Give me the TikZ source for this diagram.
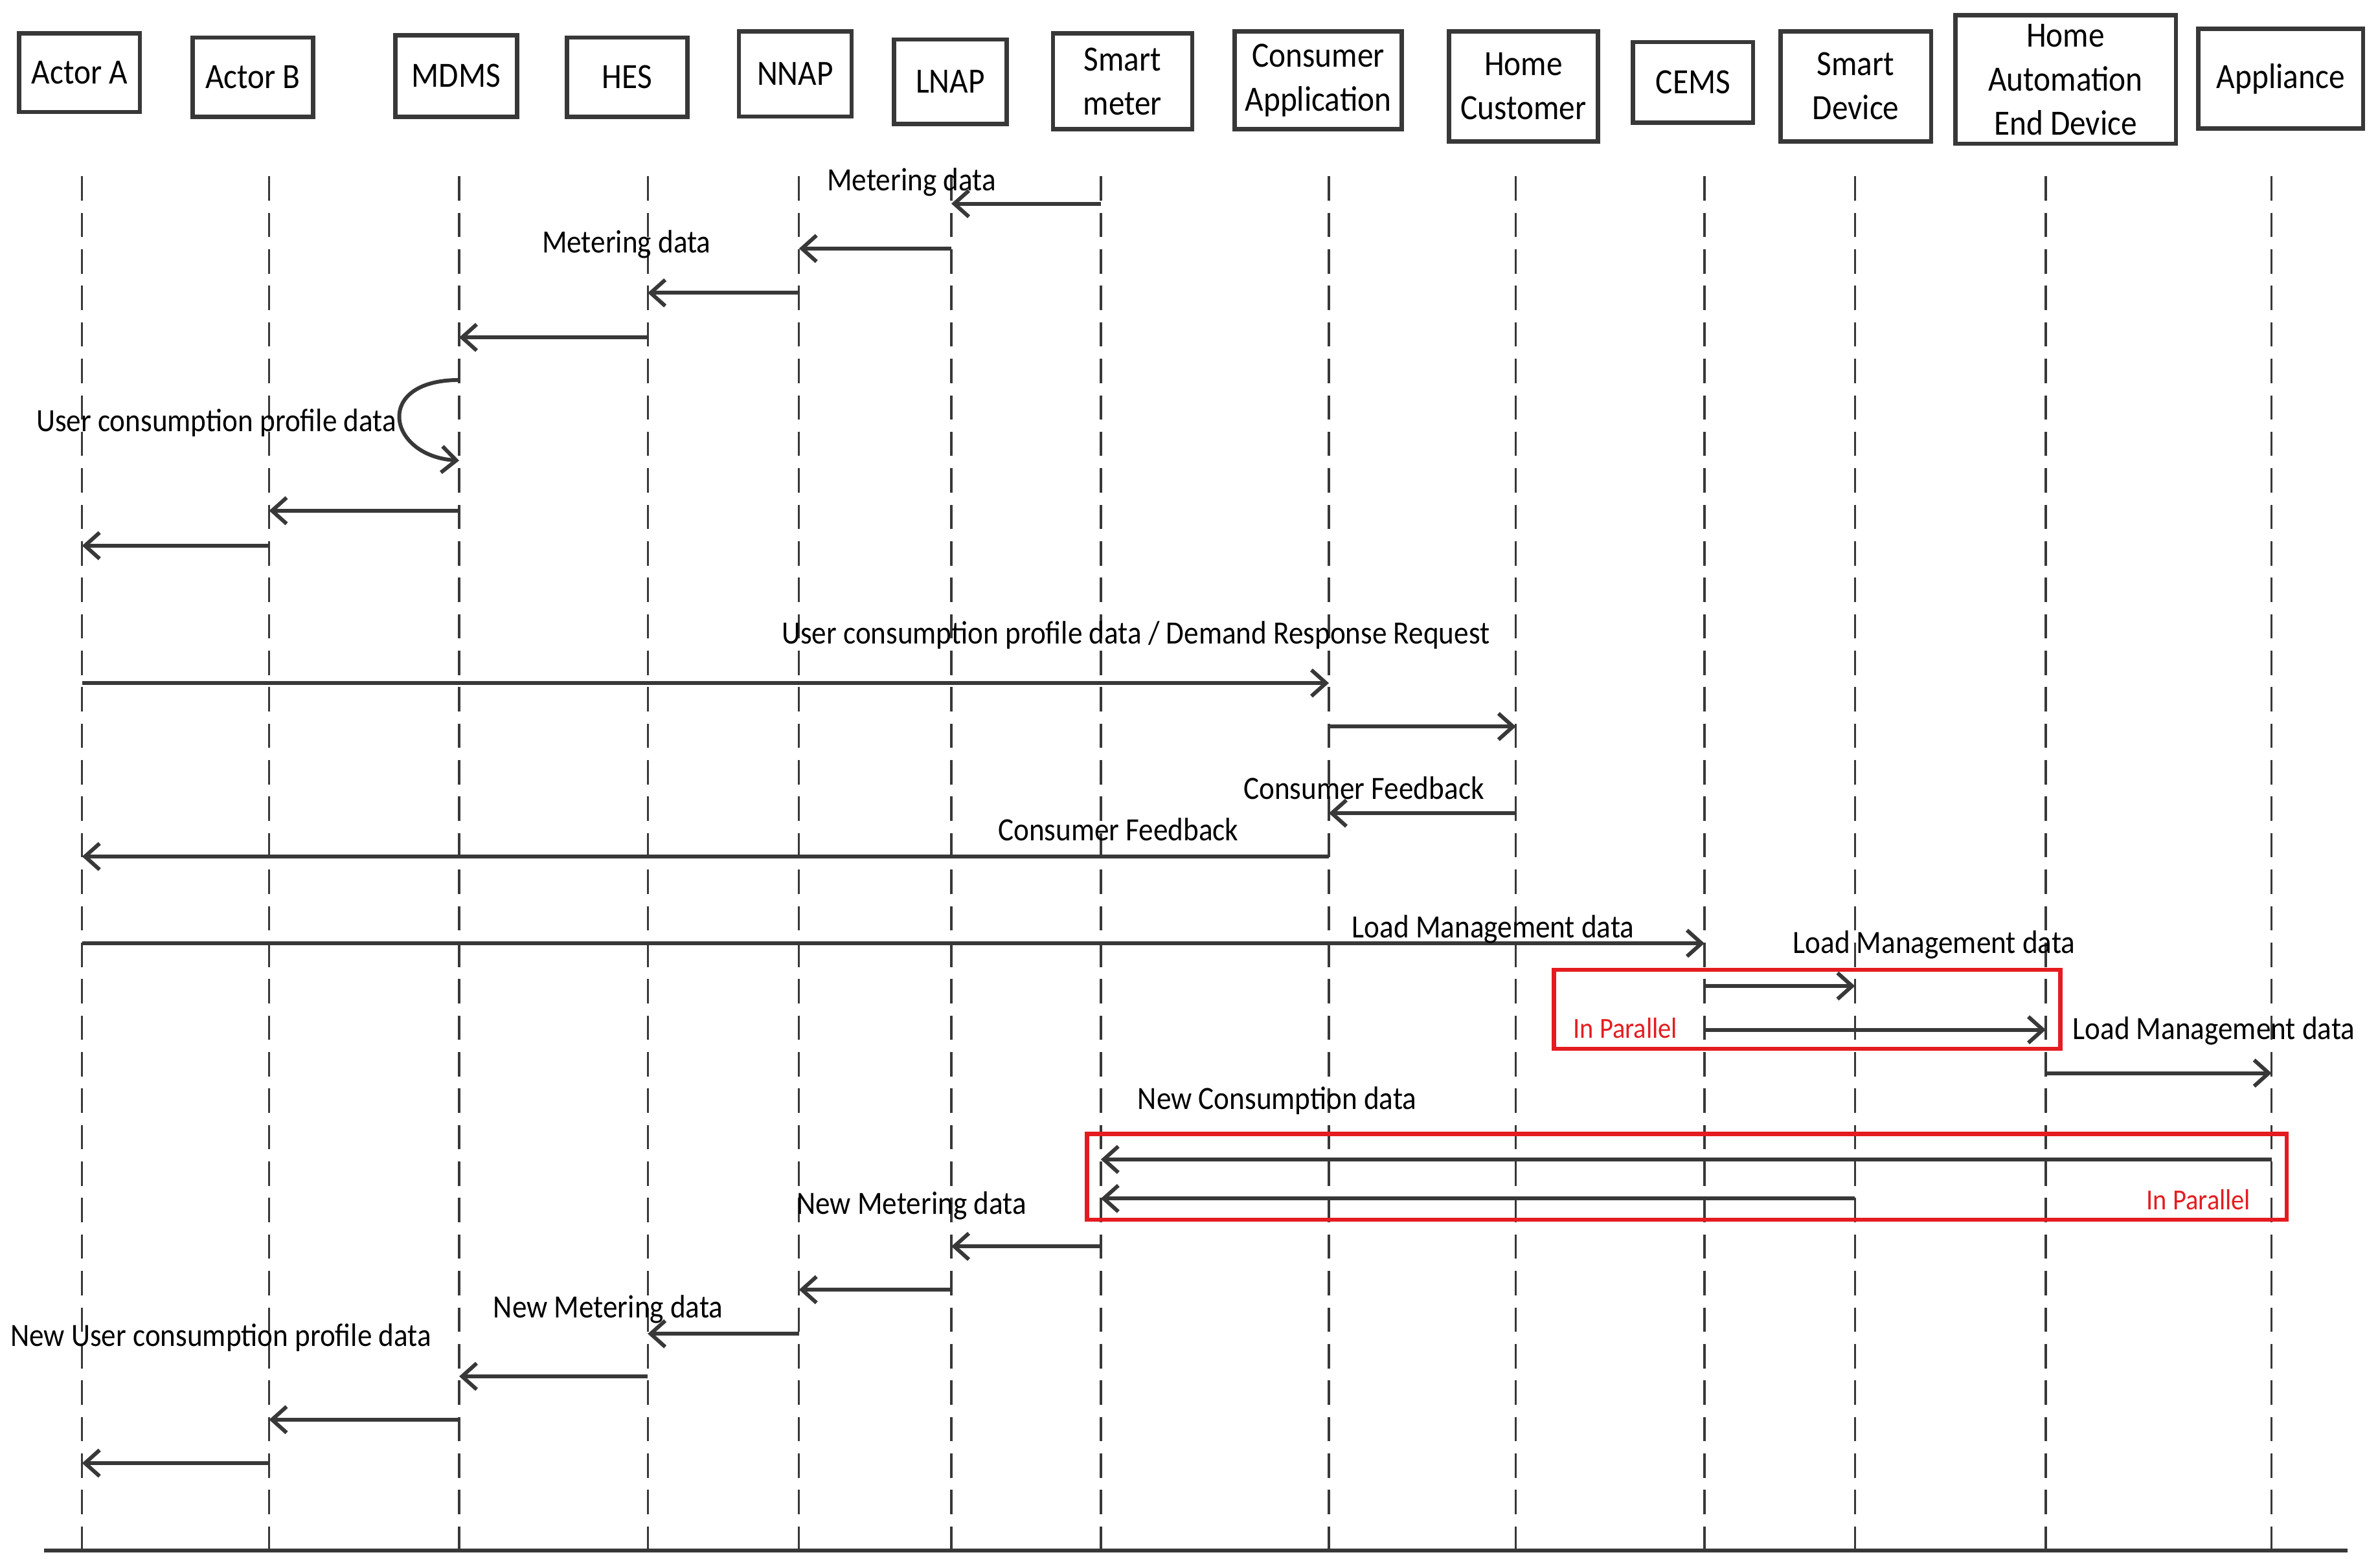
\documentclass[tikz,border=0pt]{standalone}
\usepackage{fontspec}
\setmainfont{Carlito}[FakeStretch=0.9]
\usepackage{xcolor}
\usepackage{tikz}
\usetikzlibrary{arrows.meta}
\definecolor{msgline}{HTML}{383838}
\definecolor{parred}{RGB}{228,28,32}

\begin{document}
\begin{tikzpicture}[
    x = 0.025cm, y = -0.025cm,
    actor/.style = {draw=msgline, line width=2pt, align=center, inner sep=0pt, font=\fontsize{16.6}{20.6}\selectfont},
    lifeline/.style = {draw=msgline, line width=1pt, dash pattern=on 0.4cm off 0.2cm},
    msg/.style = {draw=msgline, line width=1.8pt, -{Straight Barb[length=0.24cm, width=0.43cm]}},
    lbl/.style = {inner sep=0pt, anchor=base, font=\fontsize{15.2}{18}\selectfont},
    parbox/.style = {draw=parred, line width=2pt},
    partxt/.style = {lbl, text=parred, font=\fontsize{13.6}{16}\selectfont}
  ]
  \useasboundingbox (0,0) rectangle (1564,1031.2);

  \node[actor, minimum width=1.985cm, minimum height=1.29cm] (actA) at (52.3,47.8) {Actor A};
  \node[actor, minimum width=1.985cm, minimum height=1.30cm] (actB) at (166.3,50.8) {Actor B};
  \node[actor, minimum width=2.0cm, minimum height=1.34cm] (mdms) at (300,50) {MDMS};
  \node[actor, minimum width=1.975cm, minimum height=1.30cm] (hes) at (412.5,50.8) {HES};
  \node[actor, minimum width=1.85cm, minimum height=1.40cm] (nnap) at (523,48.7) {NNAP};
  \node[actor, minimum width=1.85cm, minimum height=1.39cm] (lnap) at (625,53.8) {LNAP};
  \node[actor, minimum width=2.29cm, minimum height=1.575cm] (meter) at (738.3,53.5) {Smart\\meter};
  \node[actor, minimum width=2.75cm, minimum height=1.61cm] (capp) at (867,52.8) {Consumer\\Application};
  \node[actor, minimum width=2.45cm, minimum height=1.81cm] (hcust) at (1002,56.8) {Home\\Customer};
  \node[actor, minimum width=1.975cm, minimum height=1.325cm] (cems) at (1113.5,54.2) {CEMS};
  \node[actor, minimum width=2.475cm, minimum height=1.81cm] (sdev) at (1220.5,56.8) {Smart\\Device};
  \node[actor, minimum width=3.625cm, minimum height=2.11cm] (haed) at (1358.5,52.3) {Home\\Automation\\End Device};
  \node[actor, minimum width=2.71cm, minimum height=1.64cm] (appl) at (1500,51.8) {Appliance};

  \foreach \n/\x in {actA/54, actB/177, mdms/302, hes/426, nnap/525.5, lnap/625.7, meter/724,
                     capp/874, hcust/997, cems/1121, sdev/1220, haed/1345.5, appl/1494}
    \draw[lifeline] (\x,116) coordinate (\n-top) -- (\x,1020) coordinate (\n-bot);

  \draw[draw=msgline, line width=1.8pt] (29,1020) -- (1544,1020);

  \draw[parbox] (1022,638) rectangle (1355,690);
  \draw[parbox] (715,746) rectangle (1504,802.5);

  \foreach \a/\b/\y in {meter/lnap/134, lnap/nnap/163.5, nnap/hes/192.7, hes/mdms/222,
                        mdms/actB/336, actB/actA/359, actA/capp/449.4, capp/hcust/478,
                        hcust/capp/535, capp/actA/563.5, actA/cems/620.6, cems/sdev/648.7,
                        cems/haed/677.5, haed/appl/706, appl/meter/762.8, sdev/meter/788.5,
                        meter/lnap/820, lnap/nnap/848.5, nnap/hes/877.5, hes/mdms/905.5,
                        mdms/actB/934, actB/actA/962.6}
    \draw[msg] (\a-top |- 0,\y) -- (\b-top |- 0,\y);

  \draw[msg] (mdms-top |- 0,250) .. controls (245,250) and (255,300) .. (mdms-top |- 0,303);

  \node[lbl] (md1) at (599.5,125.5) {Metering data};
  \node[lbl] (md2) at (412,166.5) {Metering data};
  \node[lbl] (ucp) at (142.3,284) {User consumption profile data};
  \node[lbl] (dr) at (747,423.7) {User consumption profile data / Demand Response Request};
  \node[lbl] (cf1) at (897,525.6) {Consumer Feedback};
  \node[lbl] (cf2) at (735.5,553) {Consumer Feedback};
  \node[lbl] (lm1) at (982,617) {Load Management data};
  \node[lbl] (lm2) at (1272,627) {Load Management data};
  \node[lbl] (lm3) at (1456,684) {Load Management data};
  \node[lbl] (ncd) at (840,730) {New Consumption data};
  \node[lbl] (nmd1) at (599.5,799) {New Metering data};
  \node[lbl] (nmd2) at (400,867) {New Metering data};
  \node[lbl] (nucp) at (145.3,885.6) {New User consumption profile data};
  \node[partxt] (par1) at (1069,683) {In Parallel};
  \node[partxt] (par2) at (1446,796) {In Parallel};
\end{tikzpicture}
\end{document}
